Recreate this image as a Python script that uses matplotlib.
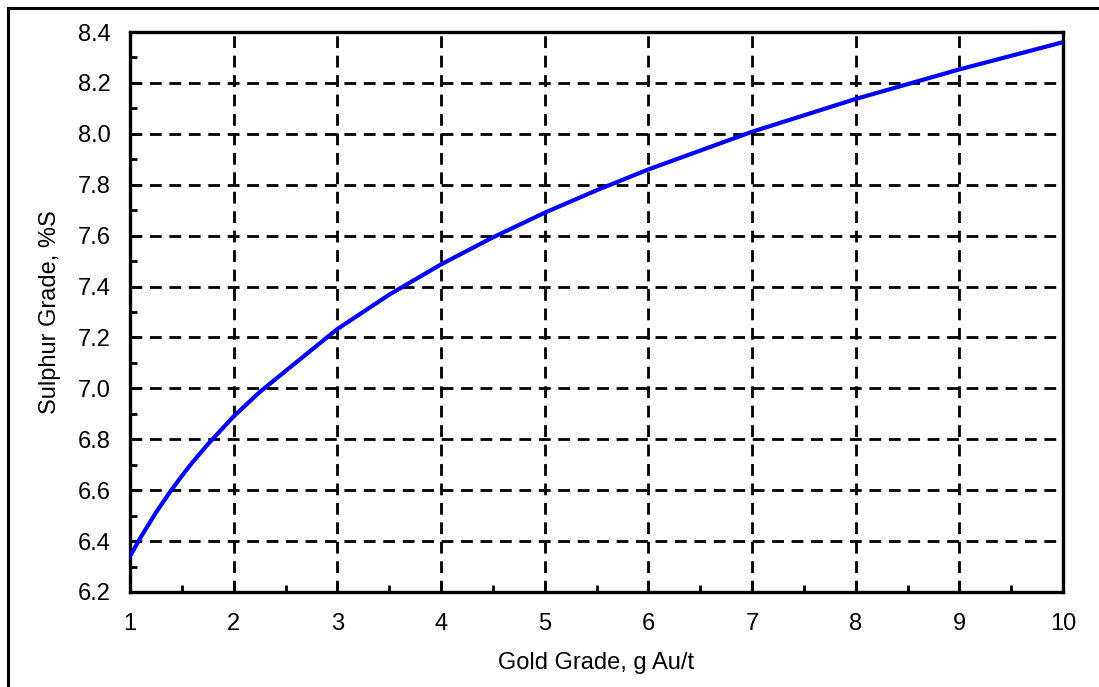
import numpy as np
import matplotlib
matplotlib.use("Agg")
import matplotlib.pyplot as plt
from matplotlib.lines import Line2D
from matplotlib.ticker import MultipleLocator

# values
gold = [1, 1.1, 1.25, 1.4, 1.5, 1.6, 1.75, 2, 2.25, 2.5, 3, 3.5, 4, 4.5, 5,
        5.5, 6, 7, 8, 9, 10]
sulphur = [6.340, 6.413, 6.512, 6.601, 6.656, 6.708, 6.780, 6.890, 6.985,
           7.068, 7.233, 7.368, 7.487, 7.593, 7.690, 7.778, 7.860, 8.008,
           8.137, 8.253, 8.360]

x_ticks = [1, 2, 3, 4, 5, 6, 7, 8, 9, 10]
y_ticks = [6.2, 6.4, 6.6, 6.8, 7.0, 7.2, 7.4, 7.6, 7.8, 8.0, 8.2, 8.4]

plt.rcParams['font.family'] = ['Liberation Sans', 'DejaVu Sans']
plt.rcParams['lines.scale_dashes'] = False

fig = plt.figure(figsize=(10.99, 6.87), dpi=100)
ax = fig.add_axes([130/1099, 1 - 592/687, (1063 - 130)/1099, (592 - 32)/687])

ax.plot(gold, sulphur, color='#0000ff', lw=3.0, solid_joinstyle='round', zorder=3)

ax.set_xlim(1, 10)
ax.set_ylim(6.2, 8.4)
ax.set_xticks(x_ticks)
ax.set_yticks(y_ticks)
ax.set_yticklabels([f"{v:.1f}" for v in y_ticks])
ax.xaxis.set_minor_locator(MultipleLocator(0.5))
ax.yaxis.set_minor_locator(MultipleLocator(0.1))

for v in x_ticks[1:-1]:
    ax.axvline(v, color='black', lw=2.0, dashes=(8.5, 5.5), zorder=1)
for v in y_ticks[1:-1]:
    ax.axhline(v, color='black', lw=2.0, dashes=(8.5, 5.5), zorder=1)

ax.tick_params(which='major', direction='in', length=7, width=2.0,
               labelsize=17, colors='black')
ax.tick_params(which='minor', direction='in', length=5, width=2.0)
ax.tick_params(axis='x', which='major', pad=15)
ax.tick_params(axis='y', which='major', pad=14)
for s in ax.spines.values():
    s.set_linewidth(2.4)
    s.set_color('black')

ax.set_xlabel('Gold Grade, g Au/t', fontsize=17, labelpad=12)
ax.set_ylabel('Sulphur Grade, %S', fontsize=17, labelpad=12)

# outer frame (left and top edges visible)
fig.add_artist(Line2D([8/1099, 8/1099], [0, 1 - 8/687], transform=fig.transFigure,
                      color='black', lw=2.2))
fig.add_artist(Line2D([8/1099, 1], [1 - 8/687, 1 - 8/687], transform=fig.transFigure,
                      color='black', lw=2.2))

fig.savefig('out.png', dpi=100)
